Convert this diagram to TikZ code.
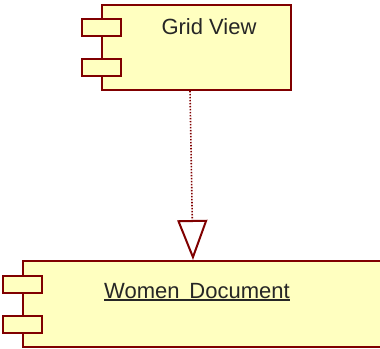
\documentclass[tikz,border=0pt]{standalone}
\usepackage{fontspec}
\setmainfont{Liberation Sans}
\usetikzlibrary{arrows.meta, positioning}

\definecolor{umlred}{HTML}{800000}
\definecolor{umlfill}{HTML}{FFFFC0}
\newcommand{\ulabel}[1]{\leavevmode\setbox0\hbox{#1}\rlap{\rule[-2.5pt]{\wd0}{1.6pt}}\box0}

\begin{document}
\begin{tikzpicture}[x=1pt, y=-1pt,
    every node/.style={font=\fontsize{22}{26}\selectfont},
    comp/.style={draw=umlred, fill=umlfill, line width=2pt, inner sep=0pt},
    port/.style={draw=umlred, fill=umlfill, line width=2pt, inner sep=0pt, minimum width=39pt, minimum height=17pt},
    al/.style={anchor=base, inner sep=0pt, text=black!85},
    dep/.style={draw=umlred, line width=1.6pt, dash pattern=on 1.3pt off 1.7pt,
      -{Triangle[open, length=40pt, width=30pt, line width=2pt]}}
]
\useasboundingbox (0,0) rectangle (380,348);
\node[comp, minimum width=189pt, minimum height=85pt] (grid) at (196.5,47.5) {};
\node[port] (gridpa) at ([yshift=20pt]grid.west) {};
\node[port] (gridpb) at ([yshift=-20pt]grid.west) {};
\node[al] (gridtxt) at (209,34) {Grid\ View};
\node[comp, minimum width=372pt, minimum height=86pt] (women) at (209,304) {};
\node[port] (womenpa) at ([yshift=20pt]women.west) {};
\node[port] (womenpb) at ([yshift=-20pt]women.west) {};
\node[al] (womentxt) at (197,298) {\ulabel{Women\hspace{0.45em}Document}};
\draw[dep] ([xshift=-6.5pt]grid.south) -- ([xshift=-16pt]women.north);
\end{tikzpicture}
\end{document}
